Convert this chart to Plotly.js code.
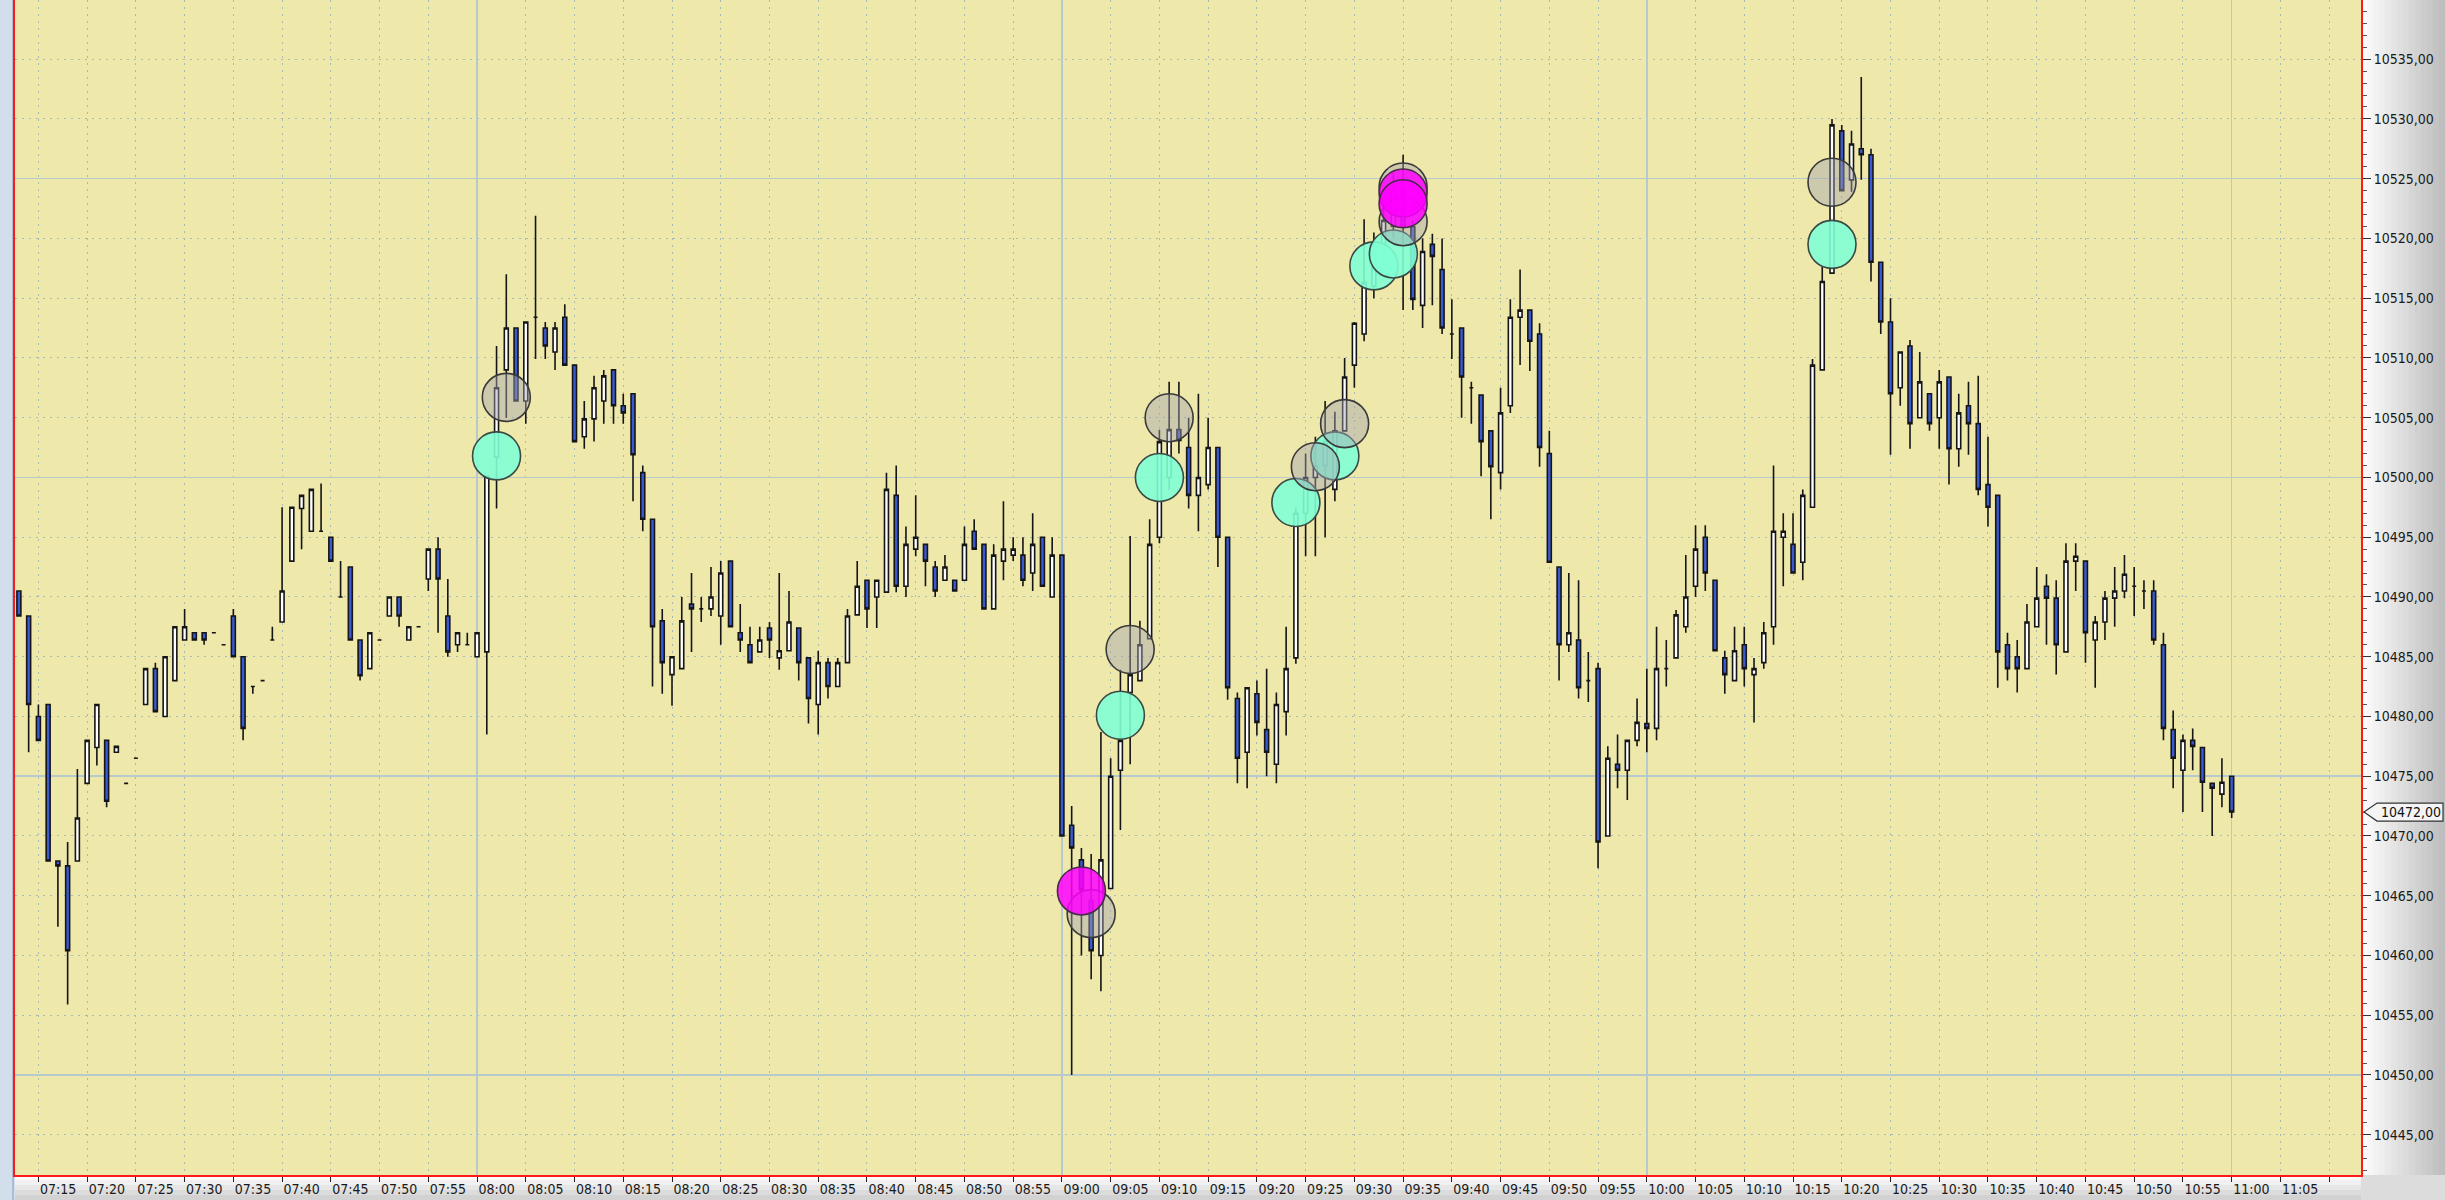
<!DOCTYPE html>
<html><head><meta charset="utf-8">
<script src="https://cdn.plot.ly/plotly-3.0.1.min.js"></script>
<style>html,body{margin:0;padding:0;background:#fff;overflow:hidden}#chart{width:2445px;height:1200px}</style>
</head><body><div id="chart"></div>
<script>
// ---- data: 1-minute bars starting 07:13 ----
const sessionDay = '2024-01-02';
const firstBar = '07:13';
const open = [
10490.5,10488.4,10480.0,10481.0,10467.9,10467.5,10467.9,10474.4,10477.4,10478.0,
10477.0,10474.4,10476.5,10481.0,10484.0,10480.0,10483.0,10486.4,10487.0,10487.0,
10487.0,10486.0,10488.4,10485.0,10482.5,10483.0,10486.4,10487.9,10493.0,10497.4,
10495.5,10495.5,10495.0,10490.0,10492.5,10486.4,10484.0,10486.4,10488.4,10490.0,
10486.4,10487.5,10491.5,10494.0,10488.4,10486.0,10486.0,10485.0,10485.4,10501.7,
10509.0,10512.5,10506.4,10513.4,10512.5,10510.5,10513.4,10509.4,10503.4,10504.9,
10506.4,10509.0,10506.0,10507.0,10500.4,10496.5,10488.0,10483.5,10484.0,10489.4,
10489.0,10489.0,10488.4,10493.0,10487.0,10486.0,10485.4,10487.4,10484.9,10485.5,
10487.4,10484.9,10481.0,10484.5,10482.5,10484.5,10488.5,10491.4,10490.0,10490.4,
10498.5,10490.9,10494.0,10494.4,10492.5,10491.4,10491.4,10491.4,10495.5,10494.4,
10489.0,10493.0,10493.5,10493.5,10492.0,10495.0,10490.0,10493.5,10470.9,10468.0,
10464.6,10460.0,10465.6,10475.5,10482.0,10483.0,10486.5,10495.0,10500.0,10504.0,
10502.5,10498.5,10499.4,10502.5,10495.0,10481.5,10477.0,10481.9,10478.9,10476.0,
10480.4,10484.9,10497.0,10500.0,10501.0,10499.0,10503.9,10509.4,10512.0,10516.0,
10519.0,10521.0,10524.0,10521.0,10514.4,10519.5,10517.4,10512.0,10512.5,10507.5,
10506.9,10503.9,10500.4,10506.0,10513.4,10514.0,10512.0,10502.0,10492.5,10486.0,
10486.4,10483.0,10484.0,10470.0,10476.0,10475.5,10478.0,10479.4,10479.0,10484.0,
10484.9,10487.5,10490.9,10495.0,10491.4,10484.9,10483.0,10486.0,10483.5,10484.5,
10487.5,10495.0,10494.4,10492.9,10497.5,10509.0,10517.1,10529.0,10524.9,10527.5,
10527.0,10518.0,10513.0,10507.5,10511.0,10505.0,10507.0,10505.0,10508.4,10502.4,
10506.0,10504.5,10499.4,10498.5,10486.0,10485.0,10484.0,10487.5,10490.9,10489.9,
10485.4,10493.0,10493.0,10486.4,10487.9,10489.9,10490.5,10490.9,10490.5,10490.5,
10486.0,10478.9,10475.5,10478.0,10477.4,10474.4,10473.5,10475.0];
const high = [
10490.5,10488.4,10481.0,10481.0,10467.9,10469.5,10475.6,10478.0,10481.0,10478.0,
10477.5,10474.4,10476.5,10484.0,10484.5,10485.0,10487.5,10489.0,10487.0,10487.0,
10487.0,10486.0,10489.0,10485.0,10482.5,10483.0,10487.5,10497.5,10497.5,10498.5,
10499.0,10499.5,10495.0,10493.0,10492.5,10486.4,10487.0,10486.4,10490.0,10490.0,
10487.5,10487.5,10494.0,10495.0,10491.5,10487.0,10487.0,10487.0,10500.1,10511.0,
10517.0,10512.5,10513.0,10521.9,10513.0,10513.0,10514.5,10509.4,10506.4,10508.5,
10509.0,10509.0,10507.0,10507.0,10501.0,10496.5,10489.0,10485.0,10490.0,10492.0,
10490.0,10492.5,10493.0,10493.0,10489.4,10487.5,10487.5,10487.9,10492.0,10490.5,
10487.4,10484.9,10485.5,10484.9,10484.9,10489.0,10493.0,10491.4,10491.4,10500.4,
10501.0,10495.9,10498.5,10494.4,10493.0,10493.5,10491.4,10495.9,10496.5,10494.4,
10494.4,10498.0,10495.0,10495.0,10497.0,10495.0,10495.0,10493.5,10472.5,10469.0,
10468.5,10478.7,10476.5,10483.9,10495.1,10488.0,10496.5,10504.0,10508.0,10508.0,
10505.0,10507.0,10505.0,10502.5,10495.0,10482.0,10482.4,10483.0,10484.0,10482.0,
10487.5,10497.5,10502.0,10503.4,10506.4,10505.5,10510.0,10513.0,10521.6,10520.5,
10523.0,10525.5,10527.0,10521.5,10520.0,10520.4,10520.0,10514.9,10512.5,10508.0,
10506.9,10503.9,10507.5,10514.9,10517.4,10514.0,10512.9,10503.9,10492.5,10492.0,
10491.4,10485.4,10484.5,10477.5,10478.5,10478.0,10481.5,10484.0,10487.5,10486.4,
10488.9,10493.5,10496.0,10496.0,10491.4,10485.5,10487.5,10487.5,10484.9,10487.9,
10501.0,10497.0,10497.0,10499.0,10509.9,10517.6,10530.0,10529.5,10529.0,10533.5,
10527.5,10518.0,10515.0,10510.5,10511.5,10510.5,10507.0,10509.0,10508.4,10507.0,
10508.0,10508.5,10503.4,10498.5,10487.0,10486.4,10489.4,10492.5,10491.9,10491.4,
10494.5,10494.5,10493.0,10488.4,10490.5,10492.5,10493.5,10492.5,10491.4,10491.4,
10487.0,10480.5,10478.5,10479.0,10477.4,10474.4,10476.5,10475.0];
const low = [
10488.4,10477.0,10478.0,10467.9,10462.4,10455.9,10467.9,10474.4,10475.9,10472.4,
10477.0,10474.4,10476.5,10481.0,10480.4,10480.0,10483.0,10486.4,10486.4,10486.0,
10487.0,10486.0,10485.0,10478.0,10481.9,10483.0,10486.4,10487.9,10493.0,10494.0,
10495.5,10495.5,10493.0,10490.0,10486.4,10483.0,10484.0,10486.4,10488.4,10487.5,
10486.4,10487.5,10490.5,10487.0,10485.0,10485.4,10486.0,10485.0,10478.5,10497.4,
10505.0,10506.4,10504.5,10509.9,10509.9,10509.0,10509.4,10503.0,10502.4,10503.0,
10504.5,10504.5,10504.5,10498.0,10495.5,10482.5,10481.9,10480.9,10484.0,10485.4,
10487.9,10488.4,10486.0,10487.5,10485.4,10484.5,10485.4,10484.9,10483.9,10485.5,
10483.0,10479.4,10478.5,10481.5,10482.5,10484.5,10488.5,10487.4,10487.4,10490.4,
10490.4,10490.0,10493.4,10490.9,10490.0,10491.4,10490.5,10491.4,10494.0,10489.0,
10489.0,10491.4,10493.0,10490.9,10490.5,10490.9,10490.0,10470.0,10450.0,10460.0,
10458.0,10457.0,10465.6,10470.5,10476.0,10483.0,10486.5,10494.5,10499.0,10502.0,
10497.4,10495.5,10499.0,10492.5,10481.4,10474.4,10474.0,10478.4,10475.0,10474.4,
10478.4,10484.4,10493.4,10493.4,10495.0,10498.0,10503.9,10507.5,10511.4,10515.0,
10518.0,10520.0,10514.0,10514.0,10512.5,10514.4,10512.0,10509.9,10505.0,10504.5,
10500.1,10496.5,10499.0,10505.4,10509.4,10508.9,10500.9,10492.9,10483.0,10485.4,
10481.5,10481.2,10467.3,10470.0,10474.0,10473.0,10477.5,10477.0,10478.0,10482.5,
10484.9,10487.0,10490.0,10490.5,10485.5,10481.9,10483.0,10482.5,10479.5,10484.0,
10486.0,10490.9,10492.0,10491.4,10497.5,10509.0,10517.1,10524.0,10523.9,10524.9,
10516.4,10512.0,10501.9,10506.0,10502.4,10505.0,10503.9,10502.4,10499.4,10500.9,
10501.9,10498.5,10495.9,10482.4,10483.0,10482.0,10484.0,10487.5,10486.0,10483.5,
10485.4,10490.5,10484.5,10482.4,10486.4,10487.5,10489.9,10488.4,10489.0,10486.0,
10478.0,10474.0,10472.0,10475.5,10472.0,10470.0,10472.4,10471.5];
const close = [
10488.4,10481.0,10478.0,10467.9,10467.5,10460.4,10471.5,10478.0,10481.0,10472.9,
10477.5,10474.4,10476.5,10484.0,10480.4,10485.0,10487.5,10487.5,10486.4,10486.4,
10487.0,10486.0,10485.0,10479.0,10482.5,10483.0,10486.4,10490.5,10497.5,10498.5,
10499.0,10495.5,10493.0,10490.0,10486.4,10483.4,10487.0,10486.4,10490.0,10488.4,
10487.5,10487.5,10494.0,10491.5,10485.4,10487.0,10486.0,10487.0,10500.1,10507.5,
10512.5,10506.4,10513.0,10513.4,10511.0,10512.5,10509.4,10503.0,10504.9,10507.5,
10508.5,10506.0,10505.4,10501.9,10496.5,10487.5,10484.5,10485.0,10488.0,10489.0,
10489.0,10490.0,10492.0,10487.5,10486.4,10484.5,10486.4,10486.4,10485.5,10487.9,
10484.5,10481.5,10484.5,10482.5,10484.5,10488.4,10490.9,10489.0,10491.4,10499.0,
10490.9,10494.4,10495.0,10493.0,10490.5,10492.5,10490.5,10494.4,10494.0,10489.0,
10493.5,10494.0,10494.0,10491.4,10494.4,10490.9,10493.5,10470.0,10469.0,10465.5,
10460.4,10468.0,10475.0,10478.0,10483.5,10486.0,10494.4,10503.0,10504.0,10503.1,
10498.5,10500.0,10502.5,10495.0,10482.4,10476.5,10482.4,10479.5,10477.0,10481.0,
10484.0,10497.0,10500.0,10501.0,10503.0,10503.9,10508.4,10512.9,10516.3,10519.0,
10521.5,10524.0,10521.0,10514.9,10518.9,10518.5,10512.5,10512.0,10508.4,10507.5,
10503.0,10500.9,10505.4,10513.4,10514.0,10511.4,10502.5,10492.9,10486.0,10487.0,
10482.4,10483.0,10469.5,10476.5,10475.5,10478.0,10479.5,10479.0,10484.0,10484.0,
10488.5,10490.0,10494.0,10492.0,10485.5,10483.5,10485.5,10484.0,10484.0,10487.0,
10495.5,10495.5,10492.0,10498.5,10509.4,10516.4,10529.5,10524.0,10527.9,10527.0,
10518.0,10513.0,10507.0,10510.5,10504.5,10508.0,10504.5,10508.0,10502.4,10505.4,
10504.5,10499.0,10497.5,10485.4,10484.0,10484.0,10487.9,10489.9,10489.9,10486.0,
10493.0,10493.4,10487.0,10487.9,10489.9,10490.5,10491.9,10490.9,10490.5,10486.4,
10479.0,10476.5,10478.0,10477.5,10474.5,10474.0,10474.5,10472.0];

// signal circles
const buyTimes   = ['08:02','09:06','09:10','09:24','09:28','09:32','09:34','10:19'];
const buyPrices  = [10501.8,10480.1,10500.0,10497.9,10501.8,10517.7,10518.7,10519.5];
const exitTimes  = ['08:03','09:03','09:07','09:11','09:26','09:29','09:35','09:35','10:19'];
const exitPrices = [10506.7,10463.5,10485.6,10505.0,10500.9,10504.5,10524.3,10521.4,10524.7];
const sellTimes  = ['09:02','09:35','09:35'];
const sellPrices = [10465.4,10523.8,10522.9];

// ---- build ----
function ts(hm){ return sessionDay + ' ' + hm; }
const [fh, fm] = firstBar.split(':').map(Number);
const times = open.map((_, i) => {
  const m = fh * 60 + fm + i;
  return ts(String(Math.floor(m / 60)).padStart(2, '0') + ':' + String(m % 60).padStart(2, '0'));
});

const xRange = [ts('07:12:36'), ts('11:13:16')];
const yRange = [10441.63, 10539.95];
const FONT = 'DejaVu Sans Condensed, Liberation Sans Narrow, sans-serif';

const circle = (color, lineColor) => ({size: 48, color: color, line: {color: lineColor, width: 1.6}});

const traces = [
  {type: 'candlestick', x: times, open: open, high: high, low: low, close: close,
   increasing: {line: {color: '#151515', width: 1.6}, fillcolor: '#ffffff'},
   decreasing: {line: {color: '#151515', width: 1.6}, fillcolor: '#3a5ad4'},
   whiskerwidth: 0, hoverinfo: 'skip', showlegend: false},
  {type: 'scatter', mode: 'markers', x: buyTimes.map(ts), y: buyPrices,
   marker: circle('rgba(127,255,212,0.9)', '#3a4a44'), hoverinfo: 'skip', showlegend: false},
  {type: 'scatter', mode: 'markers', x: exitTimes.map(ts), y: exitPrices,
   marker: circle('rgba(165,165,178,0.45)', '#3a3a3a'), hoverinfo: 'skip', showlegend: false},
  {type: 'scatter', mode: 'markers', x: sellTimes.map(ts), y: sellPrices,
   marker: circle('rgba(255,0,255,0.85)', '#4a2a4a'), hoverinfo: 'skip', showlegend: false},
  {type: 'scatter', x: [], y: [], xaxis: 'x2', yaxis: 'y2', hoverinfo: 'skip', showlegend: false}
];

// frame decoration (outside plot area)
const W = 2445, H = 1200, ML = 15, MR = 84, MB = 25;
const pw = W - ML - MR, ph = H - MB;
const shapes = [];
const xr0 = 1, xr1 = 1 + MR / pw;
const nStrip = 14;
for (let k = 0; k < nStrip; k++) {
  const f = k / (nStrip - 1);
  const g = Math.round(252 - f * 62);
  shapes.push({type: 'rect', xref: 'paper', yref: 'paper', layer: 'below',
    x0: xr0 + (xr1 - xr0) * k / nStrip, x1: xr0 + (xr1 - xr0) * (k + 1) / nStrip,
    y0: -MB / ph, y1: 1, line: {width: 0}, fillcolor: `rgb(${g},${g},${g})`});
}
for (let k = 0; k < 5; k++) {
  const f = k / 4;
  const g = Math.round(250 - f * 40);
  shapes.push({type: 'rect', xref: 'paper', yref: 'paper', layer: 'below',
    x0: 0, x1: 1, y0: -MB / ph * (k + 1) / 5, y1: -MB / ph * k / 5,
    line: {width: 0}, fillcolor: `rgb(${g},${g},${g})`});
}
shapes.push({type: 'rect', xref: 'paper', yref: 'paper', layer: 'below',
  x0: -ML / pw, x1: 0, y0: -MB / ph, y1: 1, line: {width: 0}, fillcolor: '#d2deec'});
shapes.push({type: 'line', xref: 'paper', yref: 'paper', layer: 'below',
  x0: -2 / pw, x1: -2 / pw, y0: -MB / ph, y1: 1, line: {width: 1.5, color: '#9fb2c8'}});
shapes.push({type: 'rect', xref: 'paper', yref: 'paper', layer: 'below',
  x0: 1, x1: xr1, y0: -MB / ph, y1: 0, line: {width: 0}, fillcolor: '#dcdcdc'});

// last price flag
const last = close[close.length - 1];
shapes.push({type: 'path', xref: 'paper', yref: 'y', xsizemode: 'pixel', ysizemode: 'pixel',
  xanchor: 1, yanchor: last, layer: 'above',
  path: 'M 3 0 L 16 9 L 82 9 L 82 -9 L 16 -9 Z',
  fillcolor: '#f4f4f4', line: {color: '#333', width: 1.2}});

const layout = {
  width: W, height: H,
  margin: {l: ML, r: MR, t: 0, b: MB, pad: 0},
  paper_bgcolor: '#f0f0f0', plot_bgcolor: '#EEE8AA',
  separators: ',.', showlegend: false, dragmode: false, hovermode: false,
  boxgap: 0.42,
  xaxis: {type: 'date', range: xRange, fixedrange: true, rangeslider: {visible: false},
    dtick: 300000, tick0: ts('07:00'), tickformat: '%H:%M', tickangle: 0,
    showgrid: true, gridcolor: '#a9b9b6', griddash: '2px,5px', gridwidth: 1,
    ticks: 'outside', ticklen: 5, tickwidth: 1, tickcolor: '#222',
    ticklabelposition: 'outside right', ticklabeloverflow: 'hide past domain',
    tickfont: {family: FONT, size: 14, color: '#1a1a1a'},
    showline: true, linecolor: '#ff1a1a', linewidth: 2, zeroline: false},
  xaxis2: {type: 'date', overlaying: 'x', range: xRange, fixedrange: true,
    dtick: 3600000, tick0: ts('07:00'), showgrid: true, gridcolor: '#b6c9cc', gridwidth: 1.6,
    showticklabels: false, ticks: '', showline: false, zeroline: false},
  yaxis: {side: 'right', range: yRange, fixedrange: true, dtick: 5, tick0: 10445,
    tickformat: '.2f', showgrid: true, gridcolor: '#a9b9b6', griddash: '2px,5px', gridwidth: 1,
    ticks: 'outside', ticklen: 8, tickwidth: 1, tickcolor: '#333',
    minor: {dtick: 1, ticks: 'outside', ticklen: 4, tickwidth: 1, tickcolor: '#555', showgrid: false},
    tickfont: {family: FONT, size: 14, color: '#1a1a1a'},
    showline: true, linecolor: '#ff1a1a', linewidth: 2, zeroline: false},
  yaxis2: {overlaying: 'y', side: 'left', range: yRange, fixedrange: true, dtick: 25, tick0: 10450,
    showgrid: true, gridcolor: '#b6c9cc', gridwidth: 1.6, showticklabels: false, ticks: '',
    showline: true, linecolor: '#ff1a1a', linewidth: 2, zeroline: false},
  shapes: shapes,
  annotations: [
    {xref: 'paper', yref: 'y', x: 1, y: last, xanchor: 'left', yanchor: 'middle', xshift: 18,
     text: last.toFixed(2).replace('.', ','), showarrow: false,
     font: {family: FONT, size: 14, color: '#111'}}
  ]
};

Plotly.newPlot('chart', traces, layout, {staticPlot: true, displayModeBar: false});
</script>
</body></html>
